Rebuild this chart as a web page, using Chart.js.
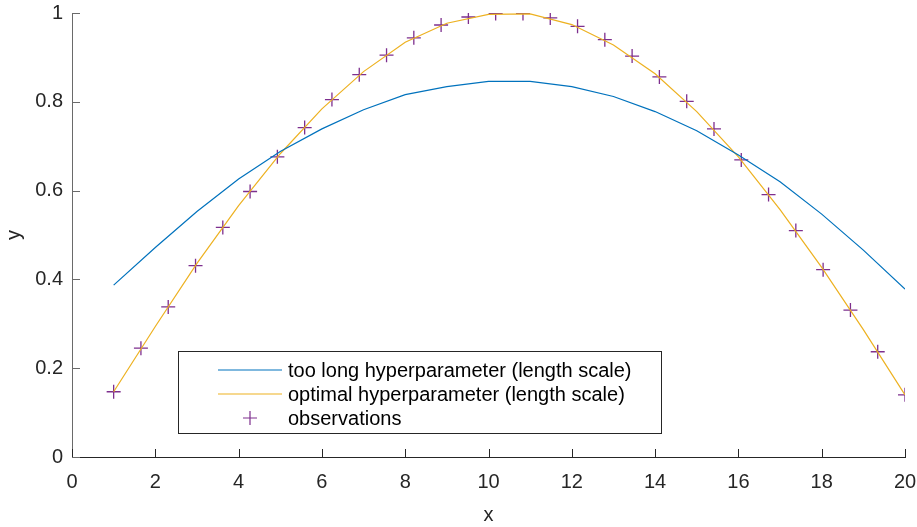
<!DOCTYPE html>
<html>
<head>
<meta charset="utf-8">
<script src="https://cdn.jsdelivr.net/npm/chart.js@4/dist/chart.umd.min.js"></script>
<style>
  html, body { margin: 0; padding: 0; background: #fff; }
  canvas { display: block; }
</style>
</head>
<body>
<canvas id="gp" width="917" height="527"></canvas>
<script>
// prediction grid and the two fitted curves
const fitX = [1, 2, 3, 4, 5, 6, 7, 8, 9, 10, 11, 12, 13, 14, 15, 16, 17, 18, 19, 20];
const tooLongY = [0.387, 0.472, 0.553, 0.626, 0.688, 0.739, 0.782, 0.816, 0.834, 0.846,
                  0.846, 0.834, 0.812, 0.778, 0.735, 0.680, 0.620, 0.547, 0.466, 0.378];
const optimalY = [0.147, 0.294, 0.436, 0.566, 0.683, 0.784, 0.868, 0.934, 0.977, 0.997,
                  0.998, 0.974, 0.928, 0.863, 0.778, 0.676, 0.557, 0.427, 0.287, 0.140];

// training points
const obsX = [1, 1.655, 2.31, 2.966, 3.621, 4.276, 4.931, 5.586, 6.241, 6.897,
              7.552, 8.207, 8.862, 9.517, 10.172, 10.828, 11.483, 12.138, 12.793, 13.448,
              14.103, 14.759, 15.414, 16.069, 16.724, 17.379, 18.034, 18.69, 19.345, 20];
const obsY = [0.147, 0.245, 0.338, 0.431, 0.517, 0.598, 0.676, 0.742, 0.805, 0.861,
              0.905, 0.944, 0.973, 0.991, 0.999, 0.999, 0.989, 0.970, 0.940, 0.903,
              0.856, 0.801, 0.739, 0.669, 0.591, 0.510, 0.422, 0.331, 0.237, 0.140];

const seriesLabels = ['too long hyperparameter (length scale)',
                      'optimal hyperparameter (length scale)',
                      'observations'];

const FONT = '"Liberation Sans", Arial, Helvetica, sans-serif';
const INK = '#262626';

const pts = (xs, ys) => xs.map((x, i) => ({ x, y: ys[i] }));

// inward ticks, MATLAB style
const innerTicks = {
  id: 'innerTicks',
  afterDraw(chart) {
    const c = chart.ctx, a = chart.chartArea;
    const sx = chart.scales.x, sy = chart.scales.y;
    c.save();
    c.lineWidth = 1;
    c.strokeStyle = INK;
    c.beginPath();
    sx.ticks.forEach(t => {
      const p = Math.round(sx.getPixelForValue(t.value)) + 0.5;
      c.moveTo(p, a.bottom); c.lineTo(p, a.bottom - 8);
    });
    c.stroke();
    c.strokeStyle = '#6a6a6a';
    c.beginPath();
    sy.ticks.forEach(t => {
      const p = Math.round(sy.getPixelForValue(t.value)) + 0.5;
      c.moveTo(a.left, p); c.lineTo(a.left + 8, p);
    });
    c.stroke();
    c.restore();
  }
};

// legend box drawn inside the axes
const boxLegend = {
  id: 'boxLegend',
  afterDraw(chart) {
    const c = chart.ctx;
    const L = 178.5, T = 351.5, R = 661.5, B = 433.5;
    c.save();
    c.fillStyle = '#fff';
    c.fillRect(L, T, R - L, B - T);
    c.strokeStyle = INK;
    c.lineWidth = 1;
    c.strokeRect(L, T, R - L, B - T);
    c.font = '20px ' + FONT;
    c.textBaseline = 'middle';
    const rows = [370, 394, 418];
    chart.data.datasets.forEach((ds, i) => {
      const y = rows[i];
      c.strokeStyle = ds.borderColor;
      c.lineWidth = 1.2;
      c.beginPath();
      if (i < 2) {
        c.moveTo(218, y); c.lineTo(282, y);
      } else {
        c.moveTo(243, y); c.lineTo(257, y);
        c.moveTo(250, y - 7); c.lineTo(250, y + 7);
      }
      c.stroke();
      c.fillStyle = '#000';
      c.fillText(ds.label, 288, y + 1);
    });
    c.restore();
  }
};

new Chart(document.getElementById('gp'), {
  type: 'scatter',
  data: {
    datasets: [
      {
        label: seriesLabels[0],
        data: pts(fitX, tooLongY),
        showLine: true,
        borderColor: '#0072BD',
        borderWidth: 1.2,
        pointRadius: 0,
        tension: 0
      },
      {
        label: seriesLabels[1],
        data: pts(fitX, optimalY),
        showLine: true,
        borderColor: '#EDB120',
        borderWidth: 1.2,
        pointRadius: 0,
        tension: 0
      },
      {
        label: seriesLabels[2],
        data: pts(obsX, obsY),
        showLine: false,
        pointStyle: 'cross',
        pointRadius: 7,
        borderColor: '#7E2F8E',
        backgroundColor: '#7E2F8E',
        pointBorderWidth: 1.3
      }
    ]
  },
  options: {
    responsive: false,
    animation: false,
    layout: { padding: { top: 13, right: 12, bottom: 0, left: 0 } },
    plugins: { legend: { display: false }, tooltip: { enabled: false } },
    scales: {
      x: {
        type: 'linear',
        min: 0, max: 20,
        afterFit(s) { s.height = 70; s.paddingLeft = 0; s.paddingRight = 0; },
        grid: { display: false, drawTicks: false },
        border: { display: true, color: INK, width: 1 },
        ticks: { stepSize: 2, color: INK, font: { family: FONT, size: 20 }, padding: 13, maxRotation: 0 },
        title: { display: true, text: 'x', color: INK, font: { family: FONT, size: 20 }, padding: { top: 2, bottom: 0 } }
      },
      y: {
        type: 'linear',
        min: 0, max: 1,
        afterFit(s) { s.width = 72; s.paddingTop = 0; s.paddingBottom = 0; },
        grid: { display: false, drawTicks: false },
        border: { display: true, color: '#6a6a6a', width: 1 },
        ticks: {
          stepSize: 0.2, color: INK, font: { family: FONT, size: 20 }, padding: 9,
          callback: v => String(Math.round(v * 10) / 10)
        },
        title: { display: true, text: 'y', color: INK, font: { family: FONT, size: 20 }, padding: { top: 2, bottom: 0 } }
      }
    }
  },
  plugins: [innerTicks, boxLegend]
});
</script>
</body>
</html>
